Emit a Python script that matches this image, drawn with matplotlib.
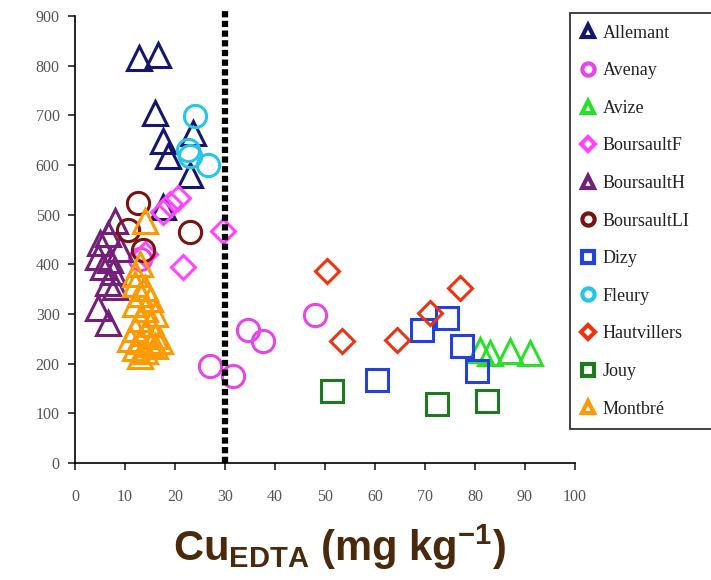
import matplotlib.pyplot as plt

plt.rcParams['mathtext.fontset'] = 'custom'
plt.rcParams['mathtext.rm'] = 'Liberation Sans:bold'
plt.rcParams['mathtext.bf'] = 'Liberation Sans:bold'

# Site names and marker styles
sites = ['Allemant', 'Avenay', 'Avize', 'BoursaultF', 'BoursaultH', 'BoursaultLI',
         'Dizy', 'Fleury', 'Hautvillers', 'Jouy', 'Montbré']
markers = ['^', 'o', '^', 'D', '^', 'o', 's', 'o', 'D', 's', '^']
colors = ['#16166e', '#e845e8', '#2be02b', '#ff45ff', '#74207a', '#7a1212',
          '#2342dc', '#25c6ea', '#ec3414', '#1e7a1e', '#ff9a05']

# Cu EDTA (x) and y values
allemant_x = [12.8, 16.5, 16.0, 17.5, 18.5, 23.5, 23.0, 17.5]
allemant_y = [815, 822, 705, 648, 618, 665, 580, 515]
avenay_x = [27.0, 31.5, 34.5, 37.5, 48.0, 13.0]
avenay_y = [195, 175, 268, 246, 298, 410]
avize_x = [81.0, 83.0, 87.0, 91.0]
avize_y = [228, 222, 226, 222]
boursaultf_x = [29.5, 21.5, 17.5, 19.0, 20.5, 14.0]
boursaultf_y = [468, 395, 505, 522, 533, 420]
boursaulth_x = [8.0, 6.5, 5.0, 4.5, 7.0, 6.5, 8.0, 4.5, 6.5, 9.0, 7.5, 5.5]
boursaulth_y = [488, 462, 442, 414, 408, 362, 354, 312, 282, 430, 385, 395]
boursaultli_x = [12.6, 10.6, 13.6, 23.0]
boursaultli_y = [523, 469, 428, 465]
dizy_x = [60.5, 69.5, 74.5, 77.5, 80.5]
dizy_y = [168, 268, 292, 236, 185]
fleury_x = [24.0, 23.0, 26.5, 22.5]
fleury_y = [698, 618, 600, 630]
hautvillers_x = [50.5, 53.5, 64.5, 71.0, 77.0]
hautvillers_y = [386, 246, 248, 302, 353]
jouy_x = [51.5, 72.5, 82.5]
jouy_y = [145, 118, 125]
montbre_x = [12, 14, 13, 15, 12, 14, 16, 13, 15, 12, 14, 16, 13, 15, 17, 12, 14, 13, 16, 11, 14, 13, 12]
montbre_y = [360, 352, 340, 330, 320, 310, 300, 290, 280, 270, 262, 255, 246, 240, 245, 232, 225, 216, 236, 250, 488, 400, 380]

xs = [allemant_x, avenay_x, avize_x, boursaultf_x, boursaulth_x, boursaultli_x,
      dizy_x, fleury_x, hautvillers_x, jouy_x, montbre_x]
ys = [allemant_y, avenay_y, avize_y, boursaultf_y, boursaulth_y, boursaultli_y,
      dizy_y, fleury_y, hautvillers_y, jouy_y, montbre_y]

fig = plt.figure(figsize=(7.11, 5.8), dpi=100)
ax = fig.add_axes([0.1055, 0.2017, 0.7032, 0.7707])

sizes = {'^': 17, 'o': 16, 'D': 12.5, 's': 16}
for name, m, c, x, y in zip(sites, markers, colors, xs, ys):
    ax.plot(x, y, linestyle='none', marker=m, markersize=sizes[m],
            markerfacecolor='none', markeredgecolor=c, markeredgewidth=2.2,
            label=name, clip_on=False)

# threshold line at 30 mg/kg
ax.plot([30, 30], [0, 915], color='black', lw=4.5, dashes=(1.0, 0.55), clip_on=False)

ax.set_xlim(0, 100)
ax.set_ylim(0, 900)
ax.set_xticks(range(0, 101, 10))
ax.set_yticks(range(0, 901, 100))
for s in ['top', 'right']:
    ax.spines[s].set_visible(False)
for s in ['left', 'bottom']:
    ax.spines[s].set_linewidth(1.2)
ax.tick_params(direction='out', length=5, width=1.2, color='#222222',
               labelsize=11.5, labelcolor='#555555')
ax.tick_params(axis='x', pad=14)
ax.tick_params(axis='y', pad=6)
for lab in ax.get_xticklabels() + ax.get_yticklabels():
    lab.set_fontfamily('Liberation Serif')

leg = fig.legend(loc='upper left', bbox_to_anchor=(570 / 711, 1 - 13 / 580 - 0.01, 0.21, 0.01),
                 mode='expand', frameon=True, fancybox=False, markerscale=0.55,
                 prop={'family': 'Liberation Serif', 'size': 13},
                 labelspacing=1.14, handletextpad=0.45, handlelength=0.7,
                 borderpad=0.65, borderaxespad=0)
leg.get_frame().set_edgecolor('black')
leg.get_frame().set_linewidth(1.3)
for h in leg.legend_handles:
    h.set_markeredgewidth(3.0)
for t in leg.get_texts():
    t.set_color('#222222')

fig.text(0.478, 0.056, r'Cu$_{\mathbf{EDTA}}$ (mg kg$^{\mathbf{-1}}$)', ha='center', va='center',
         fontsize=30, fontweight='bold', color='#4a2a0c', family='Liberation Sans')

fig.savefig('out.png', dpi=100)
